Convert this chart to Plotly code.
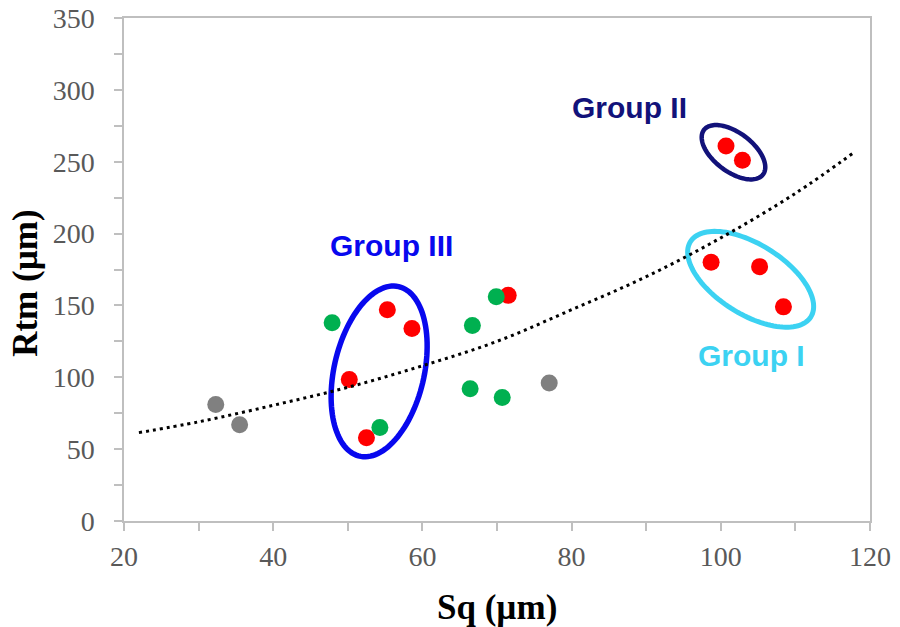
import numpy as np
import plotly.graph_objects as go

# ---- data ----
gray_x = [32.3, 35.5, 77.0]
gray_y = [81, 67, 96]
red_x = [55.3, 58.6, 50.2, 52.5, 71.5, 100.7, 102.9, 98.7, 105.2, 108.4]
red_y = [147, 134, 98.5, 58, 157, 261, 251, 180, 177, 149]
green_x = [47.9, 54.3, 66.7, 66.4, 70.7, 69.9]
green_y = [138, 65, 136, 92, 86, 156]

trend_x = [22, 30, 40, 50, 60, 70, 80, 90, 100, 110, 118]
trend_y = [61.5, 69.0, 80.5, 93.0, 108, 125, 147, 170, 197, 228, 257]

x_ticks = [20, 40, 60, 80, 100, 120]
y_ticks = [0, 50, 100, 150, 200, 250, 300, 350]

group_names = ["Group I", "Group II", "Group III"]
group_colors = ["#3cd2f2", "#12127a", "#0808ee"]
group_label_pos = [(104.1, 115.0), (87.7, 288.0), (55.8, 191.5)]
# ellipse: centre (data), semi-axes (px), angle (deg, screen, ccw), stroke width
group_ellipses = [
    ((104.0, 168.2), 71, 35, -32, 5),
    ((101.7, 256.6), 37, 19.5, -37, 4.5),
    ((54.2, 104.1), 87, 45, 77, 5.5),
]

# page body has an 8px margin, so the figure is sized to fit the window
W, H = 892, 619
L, R, T, B = 116, 30, 10, 106
XR = (20, 120)
YR = (0, 350)
px_x = (W - L - R) / (XR[1] - XR[0])
px_y = (H - T - B) / (YR[1] - YR[0])

fig = go.Figure()

fig.add_trace(go.Scatter(x=gray_x, y=gray_y, mode="markers",
                         marker=dict(color="#808080", size=17), showlegend=False))
fig.add_trace(go.Scatter(x=red_x, y=red_y, mode="markers",
                         marker=dict(color="#ff0000", size=17), showlegend=False))
fig.add_trace(go.Scatter(x=green_x, y=green_y, mode="markers",
                         marker=dict(color="#00b050", size=17), showlegend=False))
fig.add_trace(go.Scatter(x=trend_x, y=trend_y, mode="lines",
                         line=dict(color="black", width=3, dash="3px,4px", shape="spline"),
                         showlegend=False))

def ellipse_path(c, a, b, ang, n=120):
    t = np.linspace(0, 2 * np.pi, n)
    th = np.radians(ang)
    ex = a * np.cos(t) * np.cos(th) - b * np.sin(t) * np.sin(th)
    ey = a * np.cos(t) * np.sin(th) + b * np.sin(t) * np.cos(th)
    xs = c[0] + ex / px_x
    ys = c[1] + ey / px_y
    pts = [f"{xx:.4f},{yy:.4f}" for xx, yy in zip(xs, ys)]
    return "M " + " L ".join(pts) + " Z"

for (c, a, b, ang, lw), col in zip(group_ellipses, group_colors):
    fig.add_shape(type="path", path=ellipse_path(c, a, b, ang), xref="x", yref="y",
                  line=dict(color=col, width=lw), layer="below")

for name, col, (gx, gy) in zip(group_names, group_colors, group_label_pos):
    fig.add_annotation(x=gx, y=gy, text=f"<b>{name}</b>", showarrow=False,
                       font=dict(family="Liberation Sans", size=30, color=col),
                       xanchor="center", yanchor="middle")

fig.add_annotation(xref="paper", yref="paper", x=0.5, y=-0.172, text="<b>Sq (µm)</b>",
                   showarrow=False, xanchor="center", yanchor="middle",
                   font=dict(family="Liberation Serif", size=35, color="black"))
fig.add_annotation(xref="paper", yref="paper", x=-0.133, y=0.473, text="<b>Rtm (µm)</b>",
                   showarrow=False, textangle=-90, xanchor="center", yanchor="middle",
                   font=dict(family="Liberation Serif", size=35, color="black"))

axis_common = dict(showline=True, linecolor="#bfbfbf", linewidth=1.5, mirror=True,
                   showgrid=False, zeroline=False, ticks="outside", ticklen=8,
                   tickcolor="#bfbfbf", tickwidth=1.5, automargin=False,
                   ticklabeloverflow="allow",
                   tickfont=dict(family="Liberation Serif", size=28, color="#595959"))

fig.update_xaxes(range=list(XR), tickvals=x_ticks, ticktext=[str(v) for v in x_ticks],
                 minor=dict(dtick=10, tick0=0, ticks="outside", ticklen=8,
                            tickcolor="#bfbfbf", tickwidth=1.5),
                 ticklabelstandoff=2, **axis_common)
fig.update_yaxes(range=list(YR), tickvals=y_ticks, ticktext=[str(v) for v in y_ticks],
                 minor=dict(dtick=25, tick0=0, ticks="outside", ticklen=8,
                            tickcolor="#bfbfbf", tickwidth=1.5),
                 ticklabelstandoff=14, **axis_common)

fig.update_layout(width=W, height=H, margin=dict(l=L, r=R, t=T, b=B),
                  plot_bgcolor="white", paper_bgcolor="white", showlegend=False)

fig.write_html("out.html")
